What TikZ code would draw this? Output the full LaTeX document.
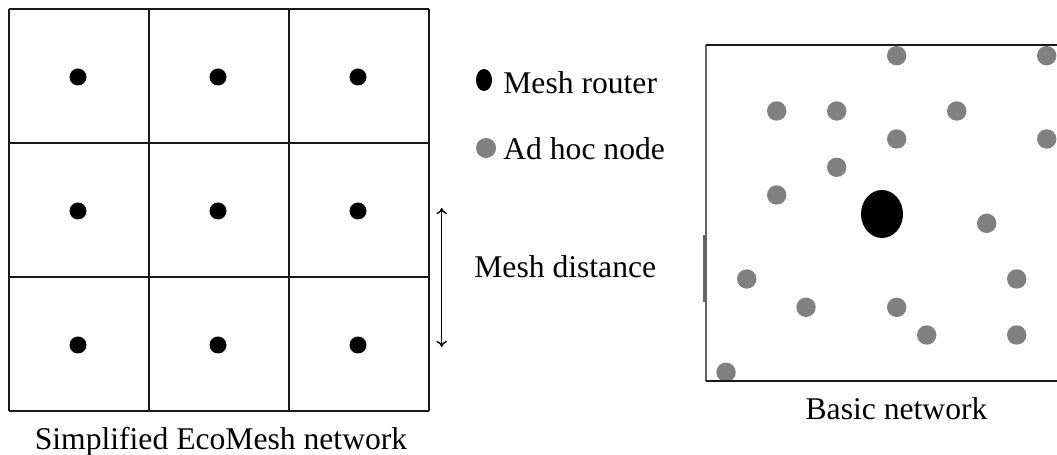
\documentclass[tikz,border=0pt]{standalone}
\usepackage{fontspec}
\setmainfont{Liberation Serif}
\usetikzlibrary{arrows.meta}
\definecolor{adhoc}{RGB}{128,128,128}
\definecolor{boxgray}{RGB}{100,100,100}

\begin{document}
\begin{tikzpicture}[x=0.02cm, y=-0.02cm,
  gridline/.style = {line width=1.1pt, black!90},
  router/.style = {fill=black},
  adhocnode/.style = {fill=adhoc},
  label/.style = {anchor=base, font=\fontsize{18}{20}\selectfont, inner sep=0pt}]
\useasboundingbox (0,0) rectangle (1057,455);
% simplified mesh
\foreach \x in {9,149,289,429} \draw [gridline] (\x,9) -- (\x,411);
\foreach \y in {9,143,277,411} \draw [gridline] (9,\y) -- (429,\y);
\foreach \i in {0,1,2}
  \foreach \j in {0,1,2}
    \fill [router] (78+140*\i, 77+134*\j) circle (8.5);
\node [label] (simple) at (221,449) {Simplified EcoMesh network};
% mesh distance
\coordinate (dtop) at (441.7,208);
\coordinate (dbot) at (441.7,347);
\draw [line width=0.8pt, {To[length=3.5pt,width=6pt]}-{To[length=3.5pt,width=6pt]}] (dtop) -- (dbot);
\node [label, anchor=base west] (dist) at (474,278) {Mesh distance};
% legend
\fill [router] (484,80) ellipse [x radius=8, y radius=11];
\fill [adhocnode] (486,148) circle (10);
\node [label, anchor=base west] (lrouter) at (503,94) {Mesh router};
\node [label, anchor=base west] (ladhoc) at (503,160) {Ad hoc node};
% basic network
\foreach \p in {(896.7,55.7),(1046.7,55.7),(776.7,111),(836.7,111),(956.7,111),
  (896.7,139),(1046.7,139),(836.7,167.3),(776.7,195),(986.7,223.3),(746.7,279),
  (1016.7,279),(806,307.3),(896.7,307.3),(926.7,335),(1016.7,335),(726,372.3)}
  \fill [adhocnode] \p circle (9.7);
\fill [router] (882,214) ellipse [x radius=21, y radius=24];
\draw [line width=0.6pt, boxgray] (706,45) -- (706,381);
\draw [line width=1.7pt, boxgray] (704.5,235) -- (704.5,302);
\draw [line width=1.1pt, black!90] (706,45) -- (1057,45);
\draw [line width=1.7pt, black!90] (706,381) -- (1057,381);
\node [label] (basic) at (896.5,419) {Basic network};
\end{tikzpicture}
\end{document}
